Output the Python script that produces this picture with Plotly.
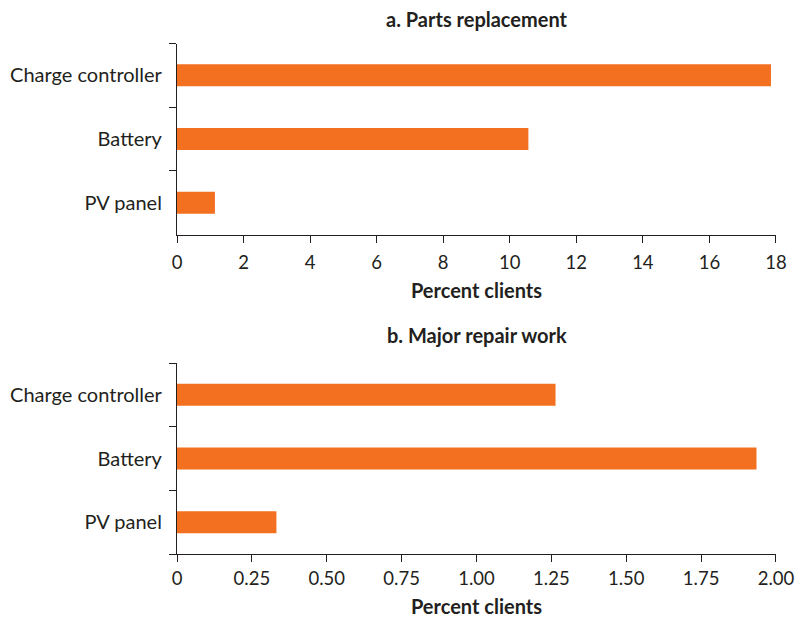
import plotly.graph_objects as go

categories = ["PV panel", "Battery", "Charge controller"]
parts_replacement = [1.14, 10.56, 17.85]
major_repair = [0.332, 1.935, 1.264]
top_ticks = [0, 2, 4, 6, 8, 10, 12, 14, 16, 18]
bottom_ticks = [0, 0.25, 0.5, 0.75, 1.0, 1.25, 1.5, 1.75, 2.0]
bottom_tick_labels = ["0", "0.25", "0.50", "0.75", "1.00", "1.25", "1.50", "1.75", "2.00"]

ORANGE = "#F37021"
TXT = "#231F20"
FONT = "Lato"
W, H = 796, 623
OFF = 0

fig = go.Figure()
fig.add_trace(go.Bar(x=parts_replacement, y=categories, orientation="h",
                     marker=dict(color=ORANGE, line=dict(width=0)),
                     xaxis="x", yaxis="y", showlegend=False))
fig.add_trace(go.Bar(x=major_repair, y=categories, orientation="h",
                     marker=dict(color=ORANGE, line=dict(width=0)),
                     xaxis="x2", yaxis="y2", showlegend=False))

def py(p):
    return 1 - (p - OFF) / H

axis_common = dict(showline=True, linecolor=TXT, linewidth=1.2, ticks="outside",
                   tickcolor=TXT, ticklen=7, tickwidth=1.2, showgrid=False, zeroline=False)
y_font = dict(family=FONT, size=20, color=TXT)
x_font = dict(family=FONT, size=18.5, color=TXT)
title_font = dict(family=FONT, size=20, color=TXT)

fig.update_layout(
    width=W, height=H, autosize=False,
    margin=dict(l=177 - OFF, r=W - (776 - OFF), t=0, b=0),
    plot_bgcolor="white", paper_bgcolor="white",
    bargap=0.654,
    xaxis=dict(domain=[0, 1], anchor="y", range=[0, 18.001], tickvals=top_ticks,
               tickfont=x_font, ticklabelstandoff=4, ticklabeloverflow="allow",
               title=dict(text="<b>Percent clients</b>", font=title_font, standoff=12),
               **axis_common),
    yaxis=dict(domain=[py(234.5), py(43.5)], anchor="x", type="category",
               categoryorder="array", categoryarray=categories, tickson="boundaries",
               range=[-0.5, 2.5], ticklabelstandoff=10, tickfont=y_font, **axis_common),
    xaxis2=dict(domain=[0, 1], anchor="y2", range=[0, 2.0001], tickvals=bottom_ticks,
                ticktext=bottom_tick_labels, tickfont=x_font, ticklabelstandoff=1,
                ticklabeloverflow="allow",
                title=dict(text="<b>Percent clients</b>", font=title_font, standoff=11),
                **axis_common),
    yaxis2=dict(domain=[py(554), py(363)], anchor="x2", type="category",
                categoryorder="array", categoryarray=categories, tickson="boundaries",
                range=[-0.5, 2.5], ticklabelstandoff=10, tickfont=y_font, **axis_common),
    annotations=[
        dict(text="<b>a. Parts replacement</b>", x=0.5, xref="paper", y=py(19), yref="paper",
             showarrow=False, font=title_font, yanchor="middle"),
        dict(text="<b>b. Major repair work</b>", x=0.5, xref="paper", y=py(335), yref="paper",
             showarrow=False, font=title_font, yanchor="middle"),
    ],
)

fig.write_html("out.html", config={"displayModeBar": False},
               post_script="document.body.style.margin='0';document.body.style.overflow='hidden';")
